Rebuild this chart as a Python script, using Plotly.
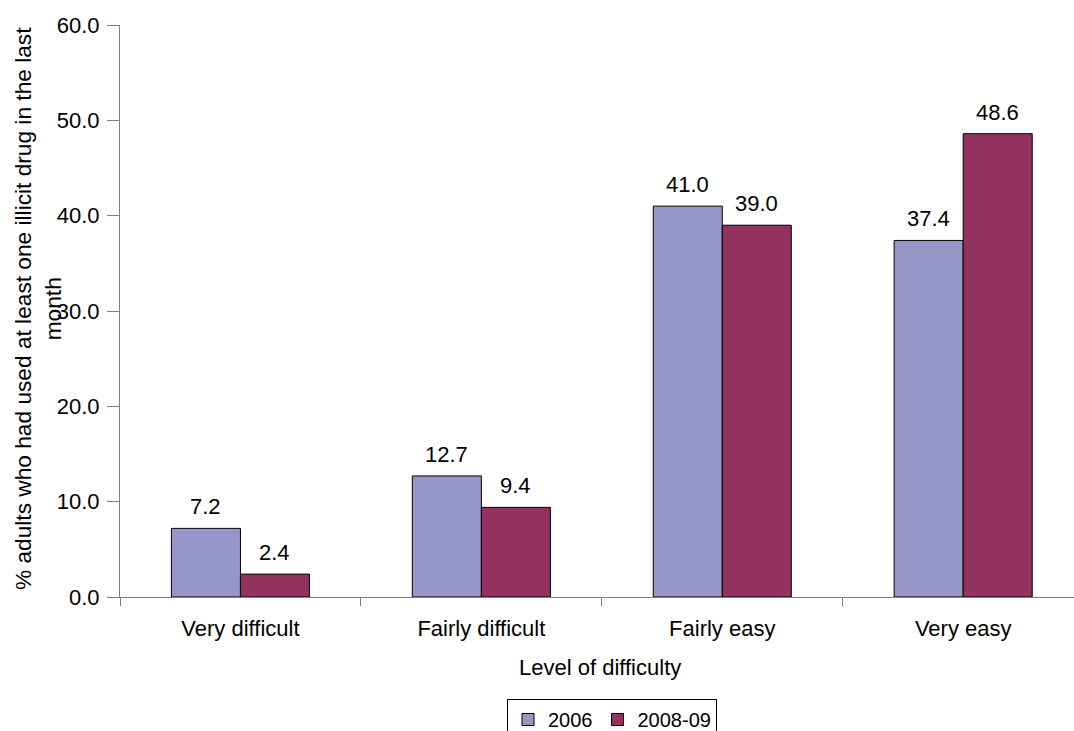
import plotly.graph_objects as go

categories = ["Very difficult", "Fairly difficult", "Fairly easy", "Very easy"]
values_2006 = [7.2, 12.7, 41.0, 37.4]
values_2008_09 = [2.4, 9.4, 39.0, 48.6]
y_ticks = [0, 10, 20, 30, 40, 50, 60]

font_family = "Liberation Sans, Arial, sans-serif"
color_2006 = "#9696C8"
color_2008 = "#93325F"
FS = 22

# plot area geometry (pixels)
W, H = 1074, 731
M_L, M_R, M_T, M_B = 120, 0, 25, 134
X_MIN, X_MAX = -0.5, 3.46
BARGAP = 0.427
cat_px = (W - M_L - M_R) / (X_MAX - X_MIN)
bar_px = cat_px * (1 - BARGAP) / 2

fig = go.Figure()
fig.add_trace(go.Bar(
    name="2006", x=categories, y=values_2006,
    marker=dict(color=color_2006, line=dict(color="#000000", width=1)),
))
fig.add_trace(go.Bar(
    name="2008-09", x=categories, y=values_2008_09,
    marker=dict(color=color_2008, line=dict(color="#000000", width=1)),
))

# value labels above each bar
annotations = []
for series, sign in ((values_2006, -1), (values_2008_09, 1)):
    for cat, v in zip(categories, series):
        annotations.append(dict(
            x=cat, y=v, xref="x", yref="y", text=f"{v:.1f}", showarrow=False,
            xanchor="center", yanchor="bottom", xshift=sign * bar_px / 2, yshift=7,
            font=dict(size=FS, color="#000000"),
        ))

# axis titles
annotations.append(dict(
    text="% adults who had used at least one illicit drug in the last<br>month",
    textangle=-90, xref="paper", yref="paper", showarrow=False,
    x=(38 - M_L) / (W - M_L - M_R), y=(H - M_B - 309) / (H - M_T - M_B),
    xanchor="center", yanchor="middle", font=dict(size=22.7, color="#000000"),
))
annotations.append(dict(
    text="Level of difficulty", xref="paper", yref="paper", showarrow=False,
    x=(600 - M_L) / (W - M_L - M_R), y=-(667 - (H - M_B)) / (H - M_T - M_B),
    xanchor="center", yanchor="middle", font=dict(size=FS, color="#000000"),
))

fig.update_layout(
    width=W, height=H,
    margin=dict(l=M_L, r=M_R, t=M_T, b=M_B, autoexpand=False),
    paper_bgcolor="white", plot_bgcolor="white",
    font=dict(family=font_family, size=FS, color="#000000"),
    barmode="group", bargap=BARGAP, bargroupgap=0,
    showlegend=True,
    legend=dict(
        orientation="h", xref="container", yref="container",
        x=612 / W, xanchor="center", y=1 - 699 / H, yanchor="top",
        bordercolor="#000000", borderwidth=1, font=dict(size=20),
        itemwidth=30, tracegroupgap=0,
    ),
    annotations=annotations,
)
fig.update_xaxes(
    range=[X_MIN, X_MAX], automargin=False,
    showline=True, linecolor="#808080", linewidth=1,
    ticks="outside", tickson="boundaries", ticklen=8, tickcolor="#808080",
    showgrid=False, zeroline=False,
    tickfont=dict(size=FS), ticklabelstandoff=12,
)
fig.update_yaxes(
    range=[0, 60], tickvals=y_ticks, tickformat=".1f", automargin=False,
    showline=True, linecolor="#808080", linewidth=1,
    ticks="outside", ticklen=12, tickcolor="#808080",
    showgrid=False, zeroline=False,
    tickfont=dict(size=FS), ticklabelstandoff=3,
)

fig.write_html("out.html")
